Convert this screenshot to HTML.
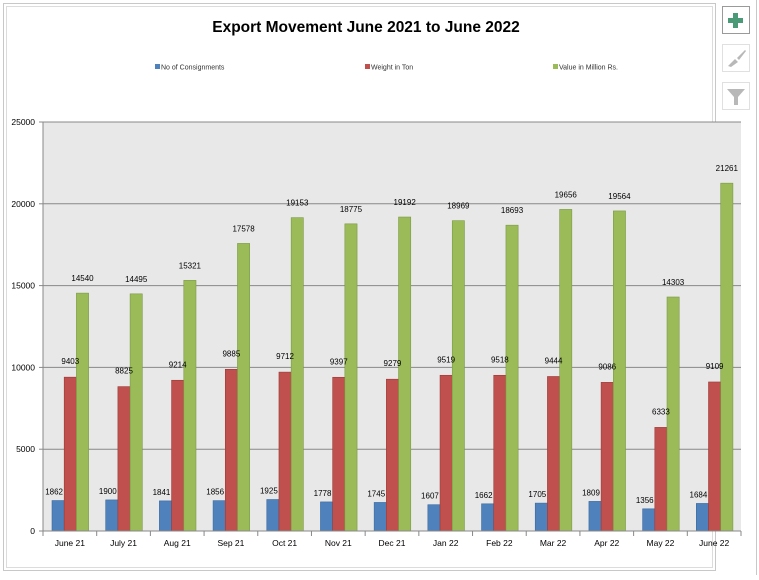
<!DOCTYPE html>
<html><head><meta charset="utf-8"><style>
body{margin:0;background:#fff;width:759px;height:575px;overflow:hidden;font-family:"Liberation Sans",sans-serif}
</style></head><body>
<svg width="759" height="575" viewBox="0 0 759 575" xmlns="http://www.w3.org/2000/svg" font-family="Liberation Sans, sans-serif">
<rect x="3.5" y="3.5" width="712" height="567" fill="none" stroke="#c8c8c8"/>
<rect x="6.5" y="6.5" width="706" height="561" fill="none" stroke="#dcdcdc"/>
<line x1="756.5" y1="0" x2="756.5" y2="575" stroke="#c8c8c8"/>
<g>
<rect x="722.5" y="6.5" width="27" height="27" fill="#fff" stroke="#9a9a9a"/>
<rect x="733" y="13" width="5" height="15" fill="#4a9a78"/><rect x="728" y="18" width="15" height="5" fill="#4a9a78"/></g>
<g>
<rect x="722.5" y="44.5" width="27" height="27" fill="#fff" stroke="#e0e0e0"/>
<path d="M728 66 L735 59 L738 62 L731 67 Z M737 58 L745 50 L746 51 L739 60Z" fill="#b8b8b8"/></g>
<g>
<rect x="722.5" y="82.5" width="27" height="27" fill="#fff" stroke="#e0e0e0"/>
<path d="M727 89 L745 89 L738 97 L738 105 L734 105 L734 97 Z" fill="#b8b8b8"/></g>
<text x="366" y="32" text-anchor="middle" font-size="15.5" font-weight="bold" fill="#000">Export Movement June 2021 to June 2022</text>
<g font-size="7" fill="#333">
<g><rect x="155" y="64" width="5" height="5" fill="#4f81bd"/><text x="161" y="69.5">No of Consignments</text></g>
<g><rect x="365" y="64" width="5" height="5" fill="#c0504d"/><text x="371" y="69.5">Weight in Ton</text></g>
<g><rect x="553" y="64" width="5" height="5" fill="#9bbb59"/><text x="559" y="69.5">Value in Million Rs.</text></g>
</g>
<g id="plot"></g>
</svg>
<script>
const categories=["June 21","July 21","Aug 21","Sep 21","Oct 21","Nov 21","Dec 21","Jan 22","Feb 22","Mar 22","Apr 22","May 22","June 22"];
const consignments=[1862,1900,1841,1856,1925,1778,1745,1607,1662,1705,1809,1356,1684];
const weight=[9403,8825,9214,9885,9712,9397,9279,9519,9518,9444,9086,6333,9109];
const valueMil=[14540,14495,15321,17578,19153,18775,19192,18969,18693,19656,19564,14303,21261];
const yTicks=[0,5000,10000,15000,20000,25000];
const series=[consignments,weight,valueMil];
const colors=["#4f81bd","#c0504d","#9bbb59"];
const strokes=["#3a6a9f","#9a3a38","#7a9a44"];
const names=["consignments","weight","value"];
const X0=43,X1=741,Y0=531,Y1=122,YMAX=25000;
const NS="http://www.w3.org/2000/svg";
const g=document.getElementById('plot');
const y=v=>Y0-(v/YMAX)*(Y0-Y1);
const cw=(X1-X0)/categories.length;
function mk(t,a){const e=document.createElementNS(NS,t);for(const k in a)e.setAttribute(k,a[k]);g.appendChild(e);return e;}
let bg=mk('rect',{x:X0,y:Y1,width:X1-X0,height:Y0-Y1,fill:'#e8e8e8'});


yTicks.forEach(t=>{
 if(t>0){const l=mk('line',{x1:X0,x2:X1,y1:y(t),y2:y(t),stroke:'#888','stroke-width':1});
 
 }
 mk('line',{x1:X0-4,x2:X0,y1:y(t),y2:y(t),stroke:'#888'});
 const tx=mk('text',{x:X0-8,y:y(t)+3,'text-anchor':'end','font-size':8.5,fill:'#000'});tx.textContent=t;
 
 
});
const bw=12.2,off=9;
categories.forEach((c,i)=>{
 const cx=X0+i*cw;
 series.forEach((s,j)=>{
  const bx=cx+off+j*bw;
  const r=mk('rect',{x:bx,y:y(s[i]),width:bw,height:Y0-y(s[i]),fill:colors[j],stroke:strokes[j],'stroke-width':0.6});
  
  
 });
 mk('line',{x1:cx,x2:cx,y1:Y0,y2:Y0+5,stroke:'#888'});
 const tl=mk('text',{x:cx+cw/2,y:Y0+15,'text-anchor':'middle','font-size':8.5,fill:'#000'});tl.textContent=c;
 
 
});
categories.forEach((c,i)=>{
 const cx=X0+i*cw;
 series.forEach((s,j)=>{
  const bx=cx+off+j*bw;
  const t=mk('text',{x:bx+bw/2-(j==0?4:0),y:y(s[i])-(j==0?6:j==1?13:12),'text-anchor':'middle','font-size':8,fill:'#000'});
  t.textContent=s[i];
  
  
 });
});
mk('line',{x1:X1,x2:X1,y1:Y0,y2:Y0+5,stroke:'#888'});
mk('line',{x1:X0,x2:X1,y1:Y0,y2:Y0,stroke:'#888'});
mk('line',{x1:X0,x2:X0,y1:Y1,y2:Y0,stroke:'#888'});
mk('line',{x1:X0,x2:X1,y1:Y1,y2:Y1,stroke:'#888'});
</script>
</body></html>
